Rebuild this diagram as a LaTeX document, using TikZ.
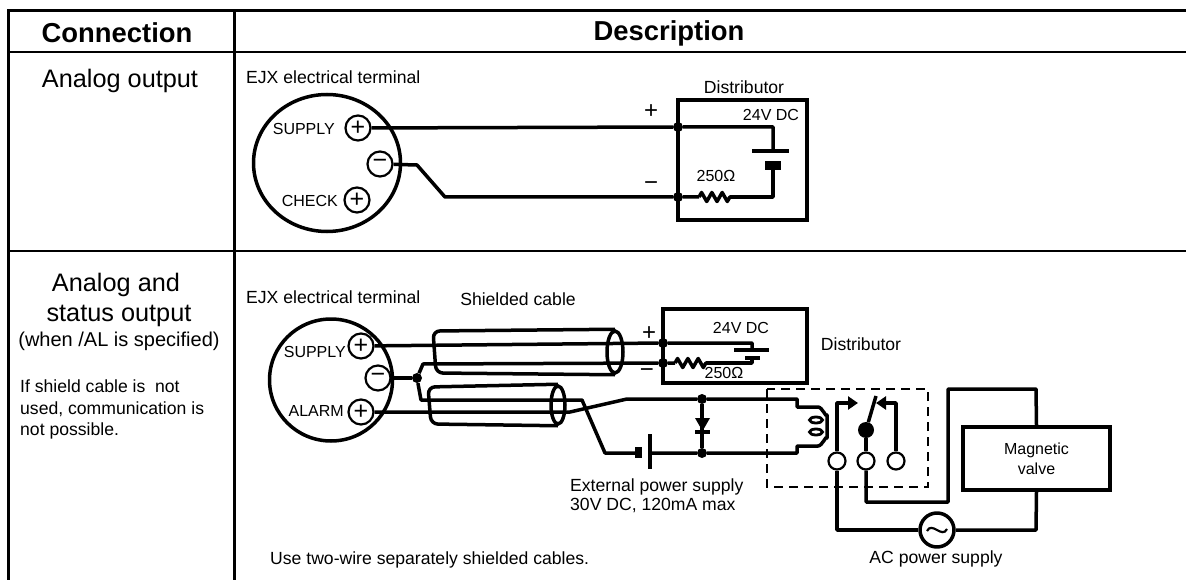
\documentclass[tikz,border=0pt]{standalone}
\usepackage{fontspec}
\setmainfont{Liberation Sans}
\usetikzlibrary{shapes.geometric}
\usetikzlibrary{arrows.meta}
\usetikzlibrary{decorations.pathmorphing}
\usetikzlibrary{calc}

\begin{document}
\begin{tikzpicture}[x=1pt,y=-1pt]
\tikzstyle{heading} = [font=\fontsize{27.4}{30}\selectfont\bfseries, inner sep=0pt, anchor=base]
\tikzstyle{rowtitle} = [font=\fontsize{25.3}{28}\selectfont, inner sep=0pt, anchor=base]
\tikzstyle{remark} = [font=\fontsize{20}{22}\selectfont, inner sep=0pt, anchor=base]
\tikzstyle{caption} = [font=\fontsize{17.6}{22}\selectfont, inner sep=0pt, anchor=base]
\tikzstyle{small} = [font=\fontsize{16}{20}\selectfont, inner sep=0pt, anchor=base]
\tikzstyle{polarity} = [font=\fontsize{24}{24}\selectfont, inner sep=0pt]
\tikzstyle{rule} = [draw, line width=3pt]
\tikzstyle{thinrule} = [draw, line width=2pt]
\tikzstyle{wire} = [draw, line width=3.5pt, line join=round]
\tikzstyle{thinwire} = [draw, line width=2.2pt]
\tikzstyle{body} = [ellipse, draw, line width=3.5pt, inner sep=0pt]
\tikzstyle{terminal} = [circle, draw, thinwire, fill=white, minimum size=25pt, inner sep=0pt, font=\fontsize{25}{25}\selectfont]
\tikzstyle{contact} = [circle, draw, thinwire, fill=white, minimum size=17pt, inner sep=0pt]
\tikzstyle{junction} = [circle, fill=black, minimum size=10pt, inner sep=0pt]
\tikzstyle{shield} = [ellipse, draw, line width=3.5pt, inner sep=0pt, minimum width=16pt, minimum height=42pt]
\tikzstyle{box} = [rectangle, draw, line width=3.5pt, inner sep=0pt]
\tikzstyle{resistor} = [wire, decorate, decoration={zigzag, amplitude=4.5pt, segment length=10.3pt}]
\useasboundingbox (0,0) rectangle (1186,580);

% table
\coordinate (topleft) at (8,11);
\coordinate (topright) at (1186,11);
\draw[rule] (8,580) -- (topleft) -- (topright);
\draw[rule] (234,11) -- (234,580);
\draw[thinrule] (8,52) -- (1186,52);
\draw[thinrule] (8,251) -- (1186,251);
\node [heading] (connection) at (117,42.5) {Connection};
\node [heading] (description) at (669,41) {Description};
\node [rowtitle] (analog) at (120,87.5) {Analog output};
\node [rowtitle] (status1) at (116,291) {Analog and};
\node [rowtitle] (status2) at (119,321.5) {status output};
\node [remark] (when) at (119,346.5) {(when /AL is specified)};
\node [caption, anchor=base west] (note1) at (20,392) {If shield cable is\ \ not};
\node [caption, anchor=base west] (note2) at (20,414) {used, communication is};
\node [caption, anchor=base west] (note3) at (20,435) {not possible.};

% analog output
\node [caption, anchor=base west] (ejxa) at (246,84) {EJX electrical terminal};
\node [body, minimum width=147pt, minimum height=137pt] (bodya) at (327,163) {};
\node [small, anchor=base east] (supplya) at (335,135) {SUPPLY};
\node [small, anchor=base east] (check) at (338,207) {CHECK};
\node [terminal] (plusa) at (358,128) {+};
\node [terminal] (minusa) at (380,164) {−};
\node [terminal] (checkplus) at (357,200) {+};
\node [box, minimum width=129pt, minimum height=120pt] (dista) at (742.5,160) {};
\node [caption] (distlabela) at (744,94) {Distributor};
\node [small] (dca) at (771,121) {24V DC};
\node [small] (ohma) at (716,182) {250Ω};
\node [polarity] (pa) at (651,112) {+};
\node [polarity] (ma) at (651,186) {−};
\node [junction] (ja) at (678,127) {};
\node [junction] (jb) at (678,197) {};
\coordinate (ra) at (699,197);
\coordinate (rb) at (730,197);
\coordinate (cella) at (773,151);
\coordinate (cellb) at (773,170);
\draw[wire] (plusa) -- (ja) -- (773,127) -- (cella);
\draw[wire] (minusa) -- (417,165) -- (445,197) -- (jb) -- (ra);
\draw[resistor] (ra) -- (rb);
\draw[wire] (rb) -- (773,197) -- (cellb);
\draw[wire] (752,151) -- (789,151);
\fill (765,161) rectangle (781,170);

% analog and status output
\node [caption, anchor=base west] (ejxb) at (246,303) {EJX electrical terminal};
\node [caption] (cable) at (518,305) {Shielded cable};
\node [body, minimum width=123pt, minimum height=122pt] (bodyb) at (331,380) {};
\node [small, anchor=base east] (supplyb) at (346,357) {SUPPLY};
\node [small, anchor=base east] (alarm) at (344,416) {ALARM};
\node [terminal] (plusb) at (361,346) {+};
\node [terminal] (minusb) at (378,378) {−};
\node [terminal] (alarmplus) at (361,412) {+};

\node [box, minimum width=144pt, minimum height=74pt] (distb) at (735,346) {};
\node [caption] (distlabelb) at (861,350) {Distributor};
\node [small] (dcb) at (741,333) {24V DC};
\node [small] (ohmb) at (724,378) {250Ω};
\node [polarity] (pb) at (649,334) {+};
\node [polarity] (mb) at (647,373) {−};
\node [junction] (jc) at (663,343) {};
\node [junction] (jd) at (663,363) {};
\node [junction] (je) at (417,378) {};
\node [junction] (jf) at (702,399) {};
\node [junction] (jg) at (702,453) {};

% cables
\node [shield] (capa) at (615,352) {};
\node [shield, minimum width=14pt, minimum height=38pt] (capb) at (558,405) {};
\draw[wire, rounded corners=7pt] (capa.north) -- (433,331) -- (436,373) -- (capa.south);
\draw[wire, rounded corners=7pt] (capb.north) -- (428,387) -- (431,424) -- (capb.south);

\coordinate (rc) at (675,363);
\coordinate (rd) at (706,363);
\coordinate (celle) at (752,350);
\coordinate (cellf) at (752,358);
\draw[wire] (plusb) -- (jc) -- (752,343) -- (celle);
\draw[wire] (minusb) -- (je);
\draw[wire] (je) -- (423,364) -- (jd) -- (rc);
\draw[resistor] (rc) -- (rd);
\draw[wire] (rd) -- (752,363) -- (cellf);
\draw[wire] (734,350) -- (769,350);
\draw[line width=4.5pt] (745,358) -- (760,358);

\node [contact] (ca) at (837,461) {};
\node [contact] (cb) at (866,461) {};
\node [contact] (cc) at (896,461) {};
\draw[wire] (je) -- (421,400) -- (582,400) -- (605,453) -- (635,453);
\draw[wire] (650,453) -- (jg) -- (797,453) -- (797,446) -- (818,446)
  to[out=0,in=90,looseness=0.9] (827,438) -- (827,415) to[out=-90,in=0,looseness=0.9] (818,407)
  -- (797,407) -- (797,399) -- (jf) -- (627,399) -- (570,412) -- (alarmplus);
\draw[wire] (jf) -- (jg);
\fill (635,447) rectangle (642,458);
\draw[wire] (650,434) -- (650,469);
\fill (695,418) -- (710,418) -- (702.5,431) -- cycle;
\draw[wire] (695,432) -- (710,432);
\draw[thinwire, line width=2.8pt] (816,420) ellipse (6.5 and 3);
\draw[thinwire, line width=2.8pt] (816,432) ellipse (6.5 and 3);
\node [caption, anchor=base west] (ext1) at (570,491) {External power supply};
\node [caption, anchor=base west] (ext2) at (570,510) {30V DC, 120mA max};

% relay
\draw[line width=2.8pt, dash pattern=on 9pt off 6pt] (767,389) rectangle (928,487);
\node [junction, minimum size=16pt] (pivot) at (866,430) {};
\coordinate (tipa) at (858,403);
\coordinate (tipb) at (876,403);
\draw[wire, -{Triangle[length=10pt,width=13pt]}] (ca) -- (837,403) -- (tipa);
\draw[wire, -{Triangle[length=10pt,width=13pt]}] (cc) -- (896,403) -- (tipb);
\draw[wire] (cb) -- (pivot);
\draw[wire] (pivot) -- (876,396);

% valve
\node [box, minimum width=147pt, minimum height=63pt, align=center, font=\fontsize{16}{20}\selectfont] (valve) at (1036.5,458.5) {Magnetic\\valve};
\node [circle, draw, wire, minimum size=34pt, inner sep=0pt] (ac) at (937,530) {};
\draw[thinwire] ($(ac)+(-10,1)$) .. controls ($(ac)+(-5,-9)$) and ($(ac)+(5,9)$) .. ($(ac)+(10,-1)$);
\draw[wire] (valve.north) -- (1036,389) -- (948,389) -- (948,502) -- (866,502) -- (cb);
\draw[wire] (ca) -- (837,530) -- (ac);
\draw[wire] (ac) -- (1036,530) -- (valve.south);
\node [caption] (aclabel) at (936,563) {AC power supply};
\node [caption, anchor=base west] (cables) at (270,564) {Use two-wire separately shielded cables.};
\end{tikzpicture}
\end{document}
